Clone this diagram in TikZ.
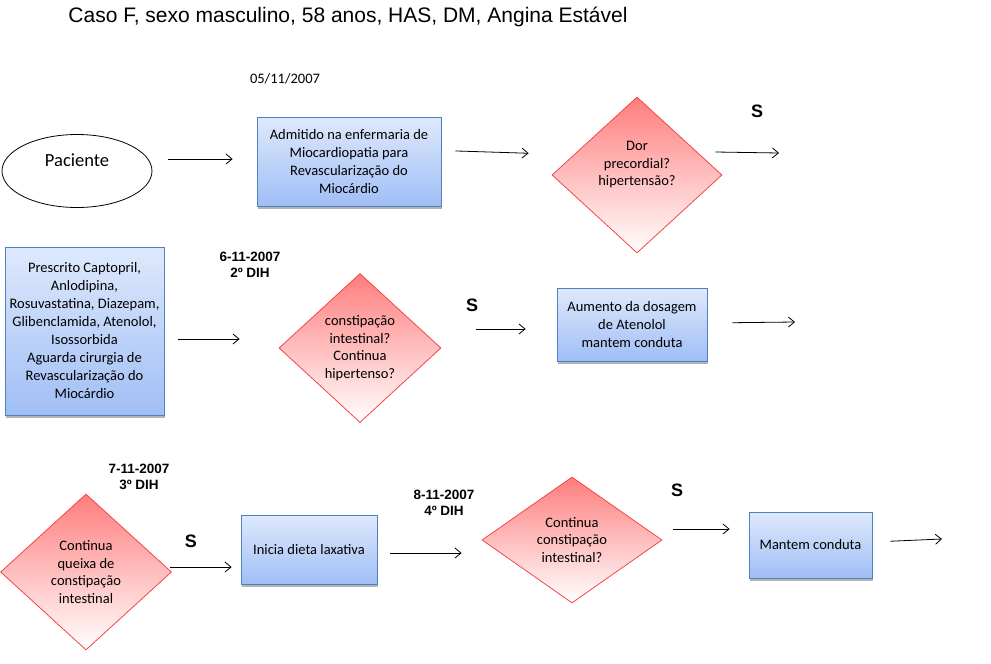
\documentclass[tikz,border=0pt]{standalone}
\usepackage{fontspec}
\setmainfont{Carlito}
\newfontfamily\arial{Liberation Sans}
\usetikzlibrary{arrows.meta,shapes.geometric,shadows}

\definecolor{azultopo}{RGB}{222,233,252}
\definecolor{azulbase}{RGB}{160,190,245}
\definecolor{azulborda}{RGB}{79,129,189}
\definecolor{vermelhotopo}{RGB}{255,125,125}
\definecolor{vermelhoborda}{RGB}{245,70,70}

\begin{document}
\begin{tikzpicture}[
    x=1pt, y=-1pt,
    every node/.style={align=center, inner sep=0pt},
    caixa/.style={draw=azulborda, line width=0.8pt, top color=azultopo, bottom color=azulbase,
        drop shadow={shadow xshift=1pt, shadow yshift=-3pt, fill=black!50, opacity=0.6},
        font=\fontsize{14.5}{18}\selectfont},
    decisao/.style={diamond, draw=vermelhoborda, line width=0.8pt, top color=vermelhotopo, bottom color=white,
        font=\fontsize{14.5}{17.5}\selectfont},
    data/.style={font=\arial\bfseries\fontsize{13.5}{16}\selectfont},
    sim/.style={font=\arial\bfseries\fontsize{18}{20}\selectfont},
    seta/.style={-{Straight Barb[length=6pt,width=10pt]}, line width=0.8pt}
]
\useasboundingbox (0,0) rectangle (991,664);

% Titulo
\node[font=\arial\fontsize{21}{24}\selectfont] (titulo) at (348,17) {Caso F, sexo masculino, 58 anos, HAS, DM, Angina Estável};

% Primeira linha
\node[font=\fontsize{14.5}{18}\selectfont] (data1) at (285,79) {05/11/2007};
\node[ellipse, draw, line width=0.8pt, minimum width=150pt, minimum height=73pt,
    font=\fontsize{18.5}{16}\selectfont] (paciente) at (77,171) {Paciente\\\strut};
\node[caixa, minimum width=184pt, minimum height=89pt] (admitido) at (349,161.5)
    {Admitido na enfermaria de\\Miocardiopatia para\\Revascularização do\\Miocárdio};
\node[decisao, minimum width=170pt, minimum height=156pt] (dor) at (637,175)
    {Dor\\precordial?\\hipertensão?\\\strut};
\node[sim] (s1) at (757,111) {S};
\coordinate (fim1) at (779,153);

% Segunda linha
\node[caixa, minimum width=159pt, minimum height=168pt] (prescrito) at (84.5,331)
    {Prescrito Captopril,\\Anlodipina,\\Rosuvastatina, Diazepam,\\Glibenclamida, Atenolol,\\Isossorbida\\Aguarda cirurgia de\\Revascularização do\\Miocárdio};
\node[data] (data2) at (250,265) {6-11-2007\\2º DIH};
\node[decisao, minimum width=162pt, minimum height=149pt] (constipacao) at (360,348)
    {constipação\\intestinal?\\Continua\\hipertenso?};
\node[sim] (s2) at (472,305) {S};
\node[caixa, minimum width=150pt, minimum height=73pt] (aumento) at (632,324.5)
    {Aumento da dosagem\\de Atenolol\\mantem conduta};
\coordinate (fim2) at (795,322);

% Terceira linha
\node[data] (data3) at (139,477) {7-11-2007\\3º DIH};
\node[decisao, minimum width=171pt, minimum height=156pt] (queixa) at (86,572)
    {Continua\\queixa de\\constipação\\intestinal};
\node[sim] (s3) at (191,541) {S};
\node[caixa, minimum width=136pt, minimum height=69pt] (dieta) at (309,549.5) {Inicia dieta laxativa};
\node[data] (data4) at (444,503) {8-11-2007\\4º DIH};
\node[decisao, minimum width=180pt, minimum height=126pt] (continua) at (572,540)
    {Continua\\constipação\\intestinal?};
\node[sim] (s4) at (677,490) {S};
\node[caixa, minimum width=123pt, minimum height=66pt] (mantem) at (810.5,545) {Mantem conduta};
\coordinate (fim3) at (942,539);

% Setas
\draw[seta, shorten <=16pt, shorten >=24pt] (paciente.east |- 0,159) -- (admitido.west |- 0,159);
\draw[seta, shorten <=14pt, shorten >=23pt] ([yshift=11pt]admitido.east) -- ([yshift=21pt]dor.west);
\draw[seta] ([xshift=-7pt,yshift=23pt]dor.east) -- (fim1);

\draw[seta, shorten <=14pt, shorten >=39pt] ([yshift=-8pt]prescrito.east) -- ([yshift=9pt]constipacao.west);
\draw[seta, shorten <=35pt, shorten >=31pt] ([yshift=19pt]constipacao.east) -- ([yshift=-4.5pt]aumento.west);
\draw[seta, shorten <=25pt] ([yshift=1.5pt]aumento.east) -- (fim2);

\draw[seta, shorten >=9pt] ([xshift=-2pt,yshift=5pt]queixa.east) -- ([yshift=-17.5pt]dieta.west);
\draw[seta, shorten <=13pt, shorten >=20pt] ([yshift=-3.5pt]dieta.east) -- ([yshift=-13pt]continua.west);
\draw[seta, shorten <=11pt, shorten >=19pt] ([yshift=11pt]continua.east) -- ([yshift=16pt]mantem.west);
\draw[seta, shorten <=18pt] ([yshift=3pt]mantem.east) -- (fim3);

\end{tikzpicture}
\end{document}
